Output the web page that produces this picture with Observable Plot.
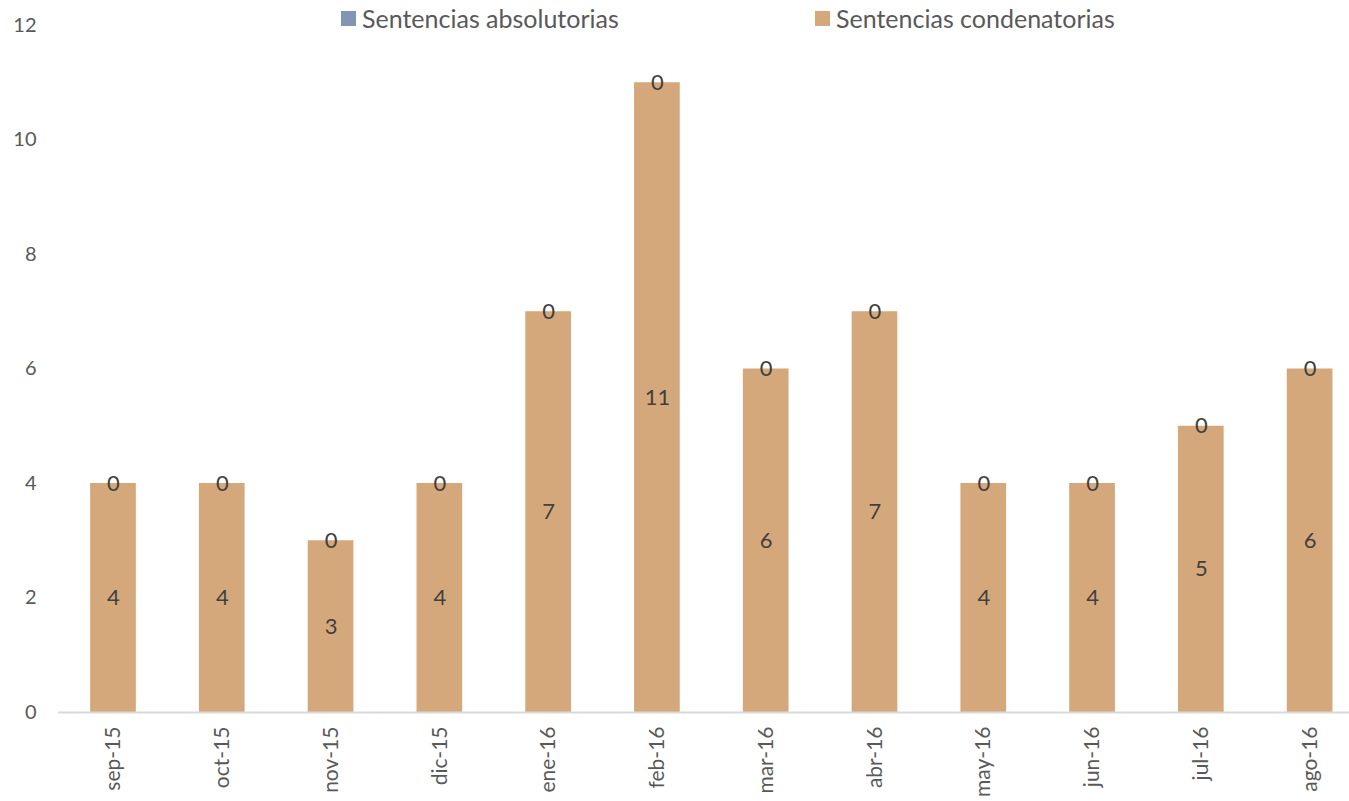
<!DOCTYPE html>
<html>
<head>
<meta charset="utf-8">
<script src="https://cdn.jsdelivr.net/npm/d3@7"></script>
<script src="https://cdn.jsdelivr.net/npm/@observablehq/plot@0.6"></script>
<style>
  html, body { margin: 0; padding: 0; background: #fff; overflow: hidden; }
  #wrap { position: relative; width: 1349px; height: 801px; font-family: Lato, "Open Sans", sans-serif; }
  #legend { position: absolute; top: 3px; left: 0; width: 1349px; height: 30px; }
  .item { position: absolute; top: 0; display: flex; align-items: center; font-size: 25px; color: #595959; white-space: nowrap; }
  .sw { width: 15px; height: 15px; margin-right: 6px; display: inline-block; }
</style>
</head>
<body>
<div id="wrap">
  <div id="chart"></div>
  <div id="legend"></div>
</div>
<script>
const months = ["sep-15","oct-15","nov-15","dic-15","ene-16","feb-16","mar-16","abr-16","may-16","jun-16","jul-16","ago-16"];
const seriesNames = ["Sentencias absolutorias", "Sentencias condenatorias"];
const absolutorias = [0,0,0,0,0,0,0,0,0,0,0,0];
const condenatorias = [4,4,3,4,7,11,6,7,4,4,5,6];
const yTicks = [0,2,4,6,8,10,12];
const colors = ["#8096B4", "#D5A87B"];

const rows = [];
months.forEach((m, i) => {
  rows.push({month: m, series: seriesNames[1], value: condenatorias[i]});
  rows.push({month: m, series: seriesNames[0], value: absolutorias[i]});
});
const stackOrder = [seriesNames[1], seriesNames[0]];

const chart = Plot.plot({
  width: 1349,
  height: 801,
  marginTop: 25,
  marginBottom: 89,
  marginLeft: 58,
  marginRight: 0,
  style: {fontFamily: "Lato, 'Open Sans', sans-serif", fontSize: "20px", color: "#595959", background: "#fff"},
  x: {domain: months, range: [58.6, 1364], paddingInner: 0.58, paddingOuter: 0.29, round: false, label: null},
  y: {domain: [0, 12], label: null},
  color: {domain: seriesNames, range: colors},
  marks: [
    Plot.barY(rows, Plot.stackY({x: "month", y: "value", z: "series", fill: "series", order: stackOrder})),
    Plot.ruleY([0], {stroke: "#d9d9d9", strokeWidth: 2}),
    Plot.axisY({ticks: yTicks, tickSize: 0, tickPadding: 22, fontSize: 20, fill: "#595959", label: null}),
    Plot.axisX({tickSize: 0, tickRotate: -90, tickPadding: 14, fontSize: 21, fill: "#595959", label: null}),
    Plot.text(rows, Plot.stackY({x: "month", y: "value", z: "series", order: stackOrder, text: "value", fill: "#404040", fontSize: 22}))
  ]
});
document.getElementById("chart").appendChild(chart);

const legend = document.getElementById("legend");
const legendX = [341, 815];
seriesNames.forEach((name, i) => {
  const item = document.createElement("div");
  item.className = "item";
  item.style.left = legendX[i] + "px";
  item.innerHTML = `<span class="sw" style="background:${colors[i]}"></span><span>${name}</span>`;
  legend.appendChild(item);
});
</script>
</body>
</html>
